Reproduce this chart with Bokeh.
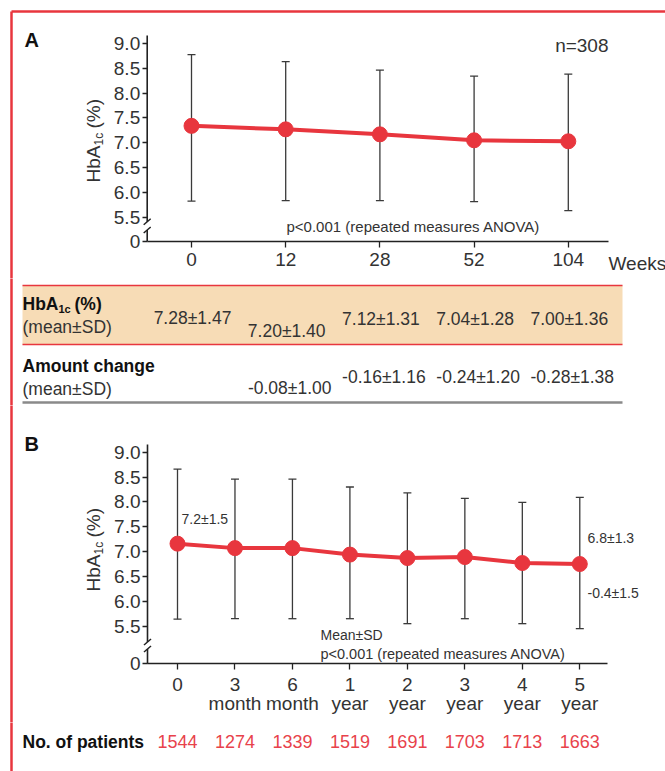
import numpy as np
from bokeh.plotting import figure
from bokeh.models import Range1d, LinearAxis, FixedTicker, ColumnDataSource, Whisker, TeeHead
from bokeh.layouts import column
from bokeh.core.properties import value
from bokeh.embed import file_html
from bokeh.resources import INLINE

# ---------------- data ----------------
weeks_labels = ["0", "12", "28", "52", "104"]
a_mean = [7.34, 7.27, 7.17, 7.05, 7.03]
a_upper = [8.77, 8.63, 8.46, 8.34, 8.38]
a_lower = [5.83, 5.84, 5.84, 5.82, 5.64]
a_table_hba1c = ["7.28±1.47", "7.20±1.40", "7.12±1.31", "7.04±1.28", "7.00±1.36"]
a_table_change = ["", "-0.08±1.00", "-0.16±1.16", "-0.24±1.20", "-0.28±1.38"]
a_n_label = "n=308"
anova_label = "p<0.001 (repeated measures ANOVA)"

b_labels = ["0", "3\nmonth", "6\nmonth", "1\nyear", "2\nyear", "3\nyear", "4\nyear", "5\nyear"]
b_mean = [7.16, 7.07, 7.07, 6.94, 6.87, 6.89, 6.77, 6.75]
b_upper = [8.66, 8.46, 8.46, 8.30, 8.18, 8.07, 7.99, 8.09]
b_lower = [5.64, 5.65, 5.65, 5.65, 5.55, 5.65, 5.55, 5.45]
b_patients = [1544, 1274, 1339, 1519, 1691, 1703, 1713, 1663]
b_start_label = "7.2±1.5"
b_end_label = "6.8±1.3"
b_change_label = "-0.4±1.5"
b_note = "Mean±SD"

y_tick_values = [5.5, 6.0, 6.5, 7.0, 7.5, 8.0, 8.5, 9.0]

# ---------------- style / layout ----------------
W = 665
RED = "#e8363e"
RED_TXT = "#e8424b"
DARK = "#222222"
TXT = "#333333"
TAN = "#f7dcb6"
FONT_NAME = "Liberation Sans"
FONT = value(FONT_NAME)

def base_fig(h, xr, yr):
    p = figure(width=W, height=h, x_range=xr, y_range=yr, output_backend="svg",
               toolbar_location=None, x_axis_type=None, y_axis_type=None,
               min_border=0, outline_line_color=None)
    p.grid.visible = False
    p.background_fill_color = "white"
    p.border_fill_color = "white"
    return p

def txt(p, x, y, s, size, align="left", baseline="middle", color=TXT, bold=False, angle=0.0):
    p.text(x=[x], y=[y], text=[s], text_font=FONT, text_font_size=size,
           text_align=align, text_baseline=baseline, text_color=color,
           text_font_style="bold" if bold else "normal", angle=angle)

def style_axis(a, size="19px"):
    a.major_label_text_font = FONT_NAME
    a.major_label_text_font_size = size
    a.major_label_text_color = TXT
    a.major_tick_line_color = DARK
    a.major_tick_line_width = 1.3
    a.minor_tick_line_color = None
    a.major_tick_in = 0

# ---------------- Panel A ----------------
A_H = 278
A_X0, A_DX = 191.0, 94.2
A_Y9, A_PPU = 42.7, 49.8
def ax(px): return (px - A_X0) / A_DX
def ay(py): return 9.0 - (py - A_Y9) / A_PPU

pA = base_fig(A_H, Range1d(ax(0), ax(W)), Range1d(ay(A_H), ay(0)))
A_Z = ay(241.0)
A_YX = ax(146.7)

ticksA = [A_Z] + y_tick_values
ovA = {t: f"{t:.1f}" for t in y_tick_values}
ovA[A_Z] = "0"

yA = LinearAxis(fixed_location=A_YX, ticker=FixedTicker(ticks=ticksA),
                major_label_overrides=ovA, axis_line_color=None)
style_axis(yA)
yA.major_tick_out = 5
yA.major_label_standoff = 2
pA.add_layout(yA, "left")

xA = LinearAxis(fixed_location=A_Z, bounds=(A_YX, ax(608)),
                ticker=FixedTicker(ticks=list(range(len(weeks_labels)))),
                major_label_overrides={i: s for i, s in enumerate(weeks_labels)},
                axis_line_color=DARK, axis_line_width=1.6)
style_axis(xA)
xA.major_tick_out = 6
xA.major_label_standoff = 5
pA.add_layout(xA, "below")

# y axis line with break
pA.segment(x0=[A_YX, A_YX], y0=[ay(35), ay(229.5)], x1=[A_YX, A_YX], y1=[ay(221.2), A_Z],
           line_color=DARK, line_width=1.6)
for cy in (221.2, 229.5):
    pA.segment(x0=[ax(146.7 - 3.5)], y0=[ay(cy + 3)], x1=[ax(146.7 + 3.5)], y1=[ay(cy - 3)],
               line_color=DARK, line_width=1.5)

idxA = list(range(len(a_mean)))
srcA = ColumnDataSource(dict(x=idxA, m=a_mean, up=a_upper, lo=a_lower))
wA = Whisker(source=srcA, base="x", upper="up", lower="lo", dimension="height",
             line_color="#3a3a3a", line_width=1.3, level="underlay",
             upper_head=TeeHead(size=8, line_color="#3a3a3a", line_width=1.3),
             lower_head=TeeHead(size=8, line_color="#3a3a3a", line_width=1.3))
pA.add_layout(wA)
pA.line("x", "m", source=srcA, line_color=RED, line_width=4)
pA.scatter("x", "m", source=srcA, size=15, fill_color=RED, line_color=RED)

txt(pA, ax(24), ay(39), "A", "20px", bold=True, color="#111111")
txt(pA, ax(608), ay(263), "Weeks", "19px")
txt(pA, ax(608), ay(45), a_n_label, "19px", align="right")
txt(pA, ax(286), ay(226), anova_label, "15px")
# y axis title HbA1c (%)
ROT = np.pi / 2
txt(pA, ax(93), ay(182), "HbA", "19px", angle=ROT)
txt(pA, ax(98.5), ay(145), "1c", "12px", angle=ROT)
txt(pA, ax(93), ay(128), "(%)", "19px", angle=ROT)

# border
pA.segment(x0=[ax(11), ax(11)], y0=[ay(11), ay(11)], x1=[ax(W + 5), ax(11)], y1=[ay(11), ay(A_H + 5)],
           line_color=RED, line_width=2.5)

# ---------------- Table ----------------
T_TOP, T_BOT = A_H, 405
pT = base_fig(T_BOT - T_TOP, Range1d(ax(0), ax(W)), Range1d(T_BOT, T_TOP))
pT.quad(left=[ax(22)], right=[ax(622)], bottom=[344], top=[285], fill_color=TAN, line_color=None)
pT.segment(x0=[ax(22)] * 2, y0=[285, 344], x1=[ax(622)] * 2, y1=[285, 344], line_color=RED, line_width=1.6)
pT.segment(x0=[ax(22)], y0=[402], x1=[ax(622)], y1=[402], line_color="#8a8a8a", line_width=2.5)
pT.segment(x0=[ax(11)], y0=[T_TOP - 5], x1=[ax(11)], y1=[T_BOT + 5], line_color=RED, line_width=2.5)

txt(pT, ax(22), 303, "HbA", "17.5px", bold=True, color="#111111")
txt(pT, ax(58), 308, "1c", "11px", bold=True, color="#111111")
txt(pT, ax(74), 303, "(%)", "17.5px", bold=True, color="#111111")
txt(pT, ax(22), 326, "(mean±SD)", "17.5px")
txt(pT, ax(22), 365, "Amount change", "17.5px", bold=True, color="#111111")
txt(pT, ax(22), 388, "(mean±SD)", "17.5px")

row1_y = [317, 330, 318, 318, 318]
row2_y = [376, 387, 376, 376, 376]
pT.text(x=idxA, y=row1_y, text=a_table_hba1c, text_font=FONT, text_font_size="17.5px",
        text_align="center", text_baseline="middle", text_color=TXT, x_offset=1)
pT.text(x=idxA, y=row2_y, text=a_table_change, text_font=FONT, text_font_size="17.5px",
        text_align="center", text_baseline="middle", text_color=TXT, x_offset=4)

# ---------------- Panel B ----------------
B_TOP, B_BOT = T_BOT, 722
B_X0, B_DX = 177.0, 57.47
B_Y9, B_PPU = 451.7, 49.7
def bx(px): return (px - B_X0) / B_DX
def by(py): return 9.0 - (py - B_Y9) / B_PPU

pB = base_fig(B_BOT - B_TOP, Range1d(bx(0), bx(W)), Range1d(by(B_BOT), by(B_TOP)))
B_Z = by(663.3)
B_YX = bx(147.0)
ticksB = [B_Z] + y_tick_values
ovB = {t: f"{t:.1f}" for t in y_tick_values}
ovB[B_Z] = "0"

yB = LinearAxis(fixed_location=B_YX, ticker=FixedTicker(ticks=ticksB),
                major_label_overrides=ovB, axis_line_color=None)
style_axis(yB)
yB.major_tick_out = 5
yB.major_label_standoff = 2
pB.add_layout(yB, "left")

xB = LinearAxis(fixed_location=B_Z, bounds=(B_YX, bx(607)),
                ticker=FixedTicker(ticks=list(range(len(b_labels)))),
                major_label_overrides={i: s for i, s in enumerate(b_labels)},
                axis_line_color=DARK, axis_line_width=1.6)
style_axis(xB)
xB.major_tick_out = 6
xB.major_label_standoff = 4
xB.major_label_text_line_height = 0.9
pB.add_layout(xB, "below")

pB.segment(x0=[B_YX, B_YX], y0=[by(444), by(648.5)], x1=[B_YX, B_YX], y1=[by(641.5), B_Z],
           line_color=DARK, line_width=1.6)
for cy in (641.5, 648.5):
    pB.segment(x0=[bx(147 - 3.5)], y0=[by(cy + 3)], x1=[bx(147 + 3.5)], y1=[by(cy - 3)],
               line_color=DARK, line_width=1.5)

idxB = list(range(len(b_mean)))
srcB = ColumnDataSource(dict(x=idxB, m=b_mean, up=b_upper, lo=b_lower))
wB = Whisker(source=srcB, base="x", upper="up", lower="lo", dimension="height",
             line_color="#3a3a3a", line_width=1.3, level="underlay",
             upper_head=TeeHead(size=8, line_color="#3a3a3a", line_width=1.3),
             lower_head=TeeHead(size=8, line_color="#3a3a3a", line_width=1.3))
pB.add_layout(wB)
pB.line("x", "m", source=srcB, line_color=RED, line_width=4)
pB.scatter("x", "m", source=srcB, size=15, fill_color=RED, line_color=RED)

txt(pB, bx(24), by(443), "B", "20px", bold=True, color="#111111")
txt(pB, bx(181), by(518), b_start_label, "14px")
txt(pB, bx(587), by(537), b_end_label, "14px")
txt(pB, bx(587), by(592), b_change_label, "14px")
txt(pB, bx(320), by(634), b_note, "14px")
txt(pB, bx(320), by(653), anova_label, "14.5px")
txt(pB, bx(93), by(591), "HbA", "19px", angle=ROT)
txt(pB, bx(98.5), by(554), "1c", "12px", angle=ROT)
txt(pB, bx(93), by(537), "(%)", "19px", angle=ROT)
pB.segment(x0=[bx(11)], y0=[by(B_TOP - 5)], x1=[bx(11)], y1=[by(B_BOT + 5)], line_color=RED, line_width=2.5)

# ---------------- Footer ----------------
F_TOP, F_BOT = B_BOT, 771
pF = base_fig(F_BOT - F_TOP, Range1d(bx(0), bx(W)), Range1d(F_BOT, F_TOP))
txt(pF, bx(22), 741, "No. of patients", "17.5px", bold=True, color="#111111")
pF.text(x=idxB, y=[741] * len(idxB), text=[str(n) for n in b_patients], text_font=FONT,
        text_font_size="18px", text_align="center", text_baseline="middle", text_color=RED_TXT)
pF.segment(x0=[bx(11)], y0=[F_TOP - 5], x1=[bx(11)], y1=[F_BOT + 5], line_color=RED, line_width=2.5)

layout = column(pA, pT, pB, pF, spacing=0)
open("out.html", "w").write(file_html(layout, INLINE))
